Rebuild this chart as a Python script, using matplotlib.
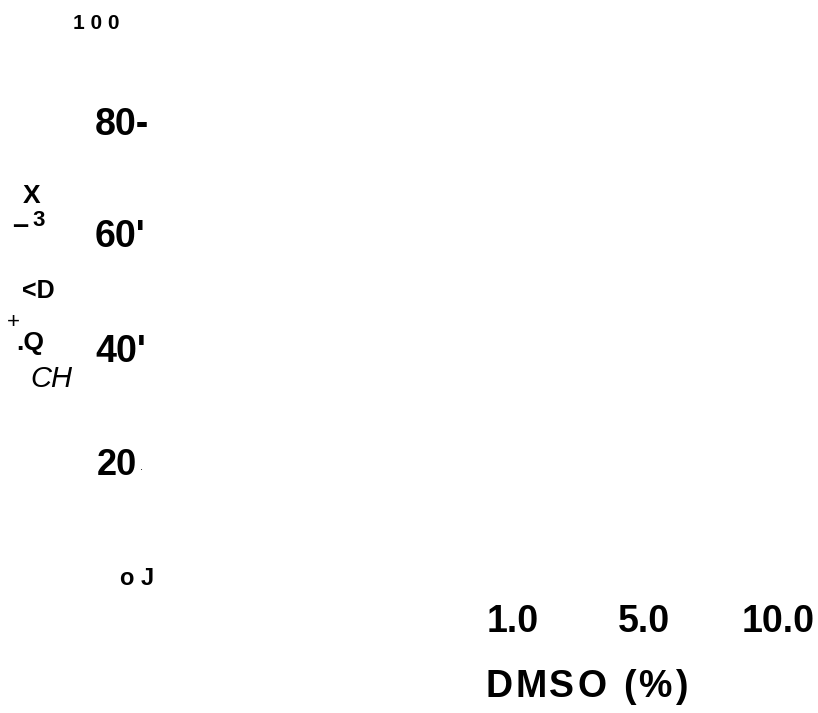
import matplotlib
matplotlib.use("Agg")
import matplotlib.pyplot as plt

plt.rcParams['font.family'] = ['Liberation Sans', 'DejaVu Sans']

# y axis tick labels as they appear (scanned figure text)
y_labels = ['1 0 0', '80-', "60'", "40'", '20', 'o J']
y_label_x = [73, 95, 95, 95, 97, 120]
y_label_base = [29, 135, 247, 362, 475, 585]
y_label_size = [15, 27, 27, 27, 26, 17]

# fragments of the rotated y axis title
title_bits = ['X', '–', '3', '<D', '+', '.Q', 'CH']
title_x = [23, 12, 32, 22, 7, 16, 30]
title_base = [203, 234, 226, 298, 328, 350, 387]
title_size = [19, 21, 16, 18, 16, 19, 21]
title_weight = ['bold', 'bold', 'bold', 'bold', 'normal', 'bold', 'normal']
title_style = ['normal'] * 6 + ['italic']

# x axis
x_labels = ['1.0', '5.0', '10.0']
x_label_x = [487, 618, 742]
x_label_base = 632
x_title = 'DMSO (%)'

W, H = 818, 713
fig = plt.figure(figsize=(W / 100, H / 100), dpi=100)
ax = fig.add_axes([0, 0, 1, 1])
ax.set_xlim(0, W)
ax.set_ylim(H, 0)
ax.axis('off')

for lab, x, y, s in zip(y_labels, y_label_x, y_label_base, y_label_size):
    ax.text(x, y, lab, fontsize=s, fontweight='bold', ha='left', va='baseline')
ax.text(140, 470, '.', fontsize=8, ha='left', va='baseline')

for lab, x, y, s, w, st in zip(title_bits, title_x, title_base, title_size,
                               title_weight, title_style):
    ax.text(x, y, lab, fontsize=s, fontweight=w, fontstyle=st,
            ha='left', va='baseline')

for lab, x in zip(x_labels, x_label_x):
    ax.text(x, x_label_base, lab, fontsize=27, fontweight='bold',
            ha='left', va='baseline')

# letter spaced axis title
cx = 485
for ch in x_title:
    t = ax.text(cx, 697, ch, fontsize=27, fontweight='bold', ha='left', va='baseline')
    fig.canvas.draw()
    bb = t.get_window_extent()
    cx += bb.width + 3

fig.savefig('out.png', dpi=100)
